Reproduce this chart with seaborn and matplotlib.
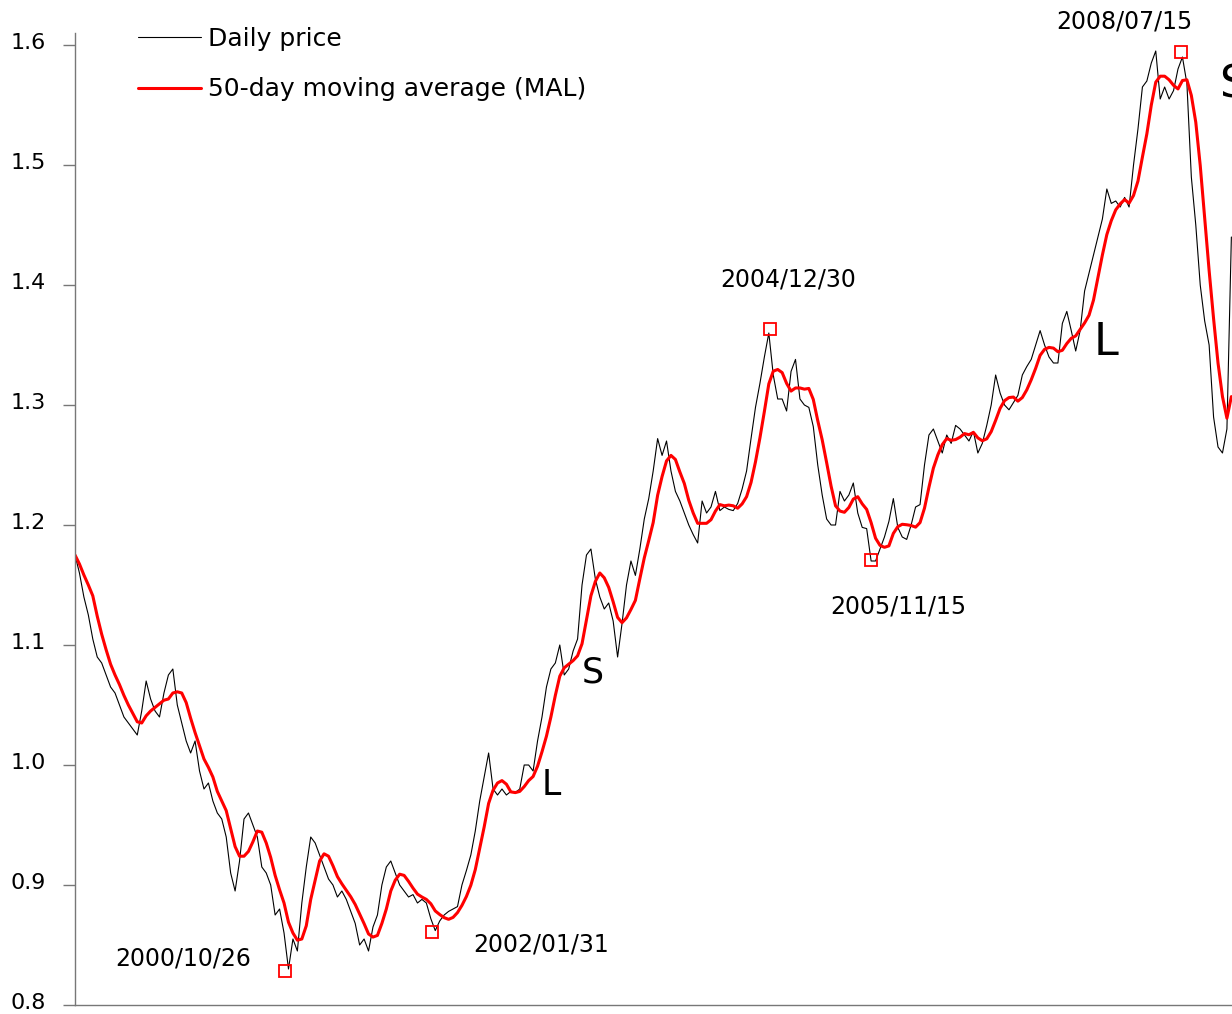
import numpy as np
import pandas as pd
import matplotlib
matplotlib.use("Agg")
import matplotlib.pyplot as plt
import matplotlib.transforms as mtransforms
import seaborn as sns

# --------------------------------------------
# DATA (one point every 14 days)
# --------------------------------------------
start_date = "1999-01-04"
ma_window = 5  # 5 x 14 days = 50 trading days

price = [
    1.175, 1.16, 1.14, 1.125, 1.105, 1.09, 1.085, 1.075, 1.065, 1.06,
    1.05, 1.04, 1.035, 1.03, 1.025, 1.045, 1.07, 1.055, 1.045, 1.04,
    1.06, 1.075, 1.08, 1.05, 1.035, 1.02, 1.01, 1.02, 0.995, 0.98,
    0.985, 0.97, 0.96, 0.955, 0.94, 0.91, 0.895, 0.92, 0.955, 0.96,
    0.95, 0.94, 0.915, 0.91, 0.9, 0.875, 0.88, 0.86, 0.83, 0.855,
    0.845, 0.885, 0.915, 0.94, 0.935, 0.925, 0.915, 0.905, 0.9, 0.89,
    0.895, 0.888, 0.878, 0.868, 0.85, 0.855, 0.845, 0.865, 0.875, 0.9,
    0.915, 0.92, 0.91, 0.9, 0.895, 0.89, 0.892, 0.885, 0.888, 0.885,
    0.872, 0.862, 0.87, 0.875, 0.878, 0.88, 0.882, 0.9, 0.912, 0.925,
    0.945, 0.97, 0.99, 1.01, 0.98, 0.975, 0.98, 0.975, 0.978, 0.977,
    0.98, 1.0, 1.0, 0.995, 1.02, 1.04, 1.065, 1.08, 1.085, 1.1,
    1.075, 1.08, 1.095, 1.105, 1.15, 1.175, 1.18, 1.155, 1.14, 1.13,
    1.135, 1.12, 1.09, 1.118, 1.15, 1.17, 1.158, 1.18, 1.205, 1.222,
    1.245, 1.272, 1.258, 1.27, 1.245, 1.228, 1.22, 1.21, 1.2, 1.192,
    1.185, 1.22, 1.21, 1.215, 1.228, 1.212, 1.215, 1.213, 1.212, 1.218,
    1.23, 1.245, 1.272, 1.298, 1.318, 1.34, 1.36, 1.325, 1.305, 1.305,
    1.295, 1.328, 1.338, 1.305, 1.3, 1.298, 1.282, 1.25, 1.225, 1.205,
    1.2, 1.2, 1.228, 1.22, 1.225, 1.235, 1.21, 1.198, 1.197, 1.17,
    1.17, 1.18, 1.19, 1.203, 1.222, 1.198, 1.19, 1.188, 1.2, 1.215,
    1.217, 1.25, 1.275, 1.28, 1.27, 1.26, 1.275, 1.268, 1.283, 1.28,
    1.275, 1.27, 1.278, 1.26, 1.268, 1.283, 1.3, 1.325, 1.31, 1.3,
    1.296, 1.302, 1.308, 1.325, 1.332, 1.338, 1.35, 1.362, 1.35, 1.34,
    1.335, 1.335, 1.368, 1.378, 1.362, 1.345, 1.362, 1.395, 1.41, 1.425,
    1.44, 1.455, 1.48, 1.468, 1.47, 1.465, 1.473, 1.465, 1.5, 1.53,
    1.565, 1.57, 1.585, 1.595, 1.555, 1.565, 1.555, 1.562, 1.58, 1.59,
    1.568, 1.49, 1.45, 1.4, 1.37, 1.35, 1.29, 1.265, 1.26, 1.28,
    1.44,
]

# turning points marked with red squares
peak_dates = ["2000-10-26", "2002-01-31", "2004-12-30", "2005-11-15", "2008-07-15"]
peak_values = [0.828, 0.861, 1.363, 1.171, 1.594]
peak_labels = ["2000/10/26", "2002/01/31", "2004/12/30", "2005/11/15", "2008/07/15"]

yticks = [0.8, 0.9, 1.0, 1.1, 1.2, 1.3, 1.4, 1.5, 1.6]

# --------------------------------------------
# BUILD FRAME
# --------------------------------------------
df = pd.DataFrame({
    "date": pd.date_range(start_date, periods=len(price), freq="14D"),
    "price": price,
})
df["ma"] = df["price"].rolling(ma_window, min_periods=1).mean()

# --------------------------------------------
# PLOT
# --------------------------------------------
sns.set_style("ticks")
plt.rcParams["font.family"] = ["DejaVu Sans"]
plt.rcParams["text.color"] = "black"
plt.rcParams["ytick.labelcolor"] = "black"

fig = plt.figure(figsize=(12.32, 10.14), dpi=100)
ax = fig.add_axes([75 / 1232, 1 - 1005 / 1014, 1 - 75 / 1232, (1005 - 33) / 1014])

sns.lineplot(data=df, x="date", y="price", ax=ax, color="black", lw=0.8,
             label="Daily price")
sns.lineplot(data=df, x="date", y="ma", ax=ax, color="red", lw=2.2,
             label="50-day moving average (MAL)")

pdates = pd.to_datetime(peak_dates)
ax.plot(pdates, peak_values, ls="none", marker="s", ms=8,
        mfc="none", mec="red", mew=1.3)

# label offsets in pixels from each square
label_offsets = [(-102, 13), (109, -13), (18, 50), (27, -47), (-56, 31)]
for d, v, lab, off in zip(pdates, peak_values, peak_labels, label_offsets):
    ax.annotate(lab, xy=(d, v), xytext=off, textcoords="offset pixels",
                ha="center", va="center", fontsize=17, color="black",
                annotation_clip=False)

# signal letters
ax.text(pd.Timestamp("2003-06-22"), 1.077, "S", fontsize=25, ha="center", va="center")
ax.text(pd.Timestamp("2003-02-12"), 0.983, "L", fontsize=25, ha="center", va="center")
ax.text(pd.Timestamp("2007-11-22"), 1.352, "L", fontsize=32, ha="center", va="center")
ax.text(pd.Timestamp("2008-11-14"), 1.567, "S", fontsize=32, ha="left", va="center",
        clip_on=False)

ax.set_xlim(df["date"].iloc[0], df["date"].iloc[-1] + pd.Timedelta(days=2))
ax.set_ylim(0.8, 1.61)
ax.set_yticks(yticks)
ax.set_yticklabels([f"{t:.1f}" for t in yticks])
ax.set_xticks([])
ax.set_xlabel("")
ax.set_ylabel("")
ax.tick_params(axis="y", length=9, width=1, color="#777777", pad=12,
               labelsize=16, labelcolor="black", direction="out")

# tick labels sit a little above their ticks in the reference
shift = mtransforms.ScaledTranslation(0, 4 / 100, fig.dpi_scale_trans)
for lab in ax.get_yticklabels():
    lab.set_transform(lab.get_transform() + shift)

sns.despine(ax=ax)
for s in ["left", "bottom"]:
    ax.spines[s].set_color("#777777")
    ax.spines[s].set_linewidth(1)

leg = ax.legend(loc="upper left", bbox_to_anchor=(138 / 1232, 1 - 27 / 1014),
                bbox_transform=fig.transFigure, frameon=False, fontsize=18,
                handlelength=2.5, handletextpad=0.32, labelspacing=1.05,
                borderpad=0, borderaxespad=0)
for t in leg.get_texts():
    t.set_color("black")

fig.savefig("out.png", dpi=100)
